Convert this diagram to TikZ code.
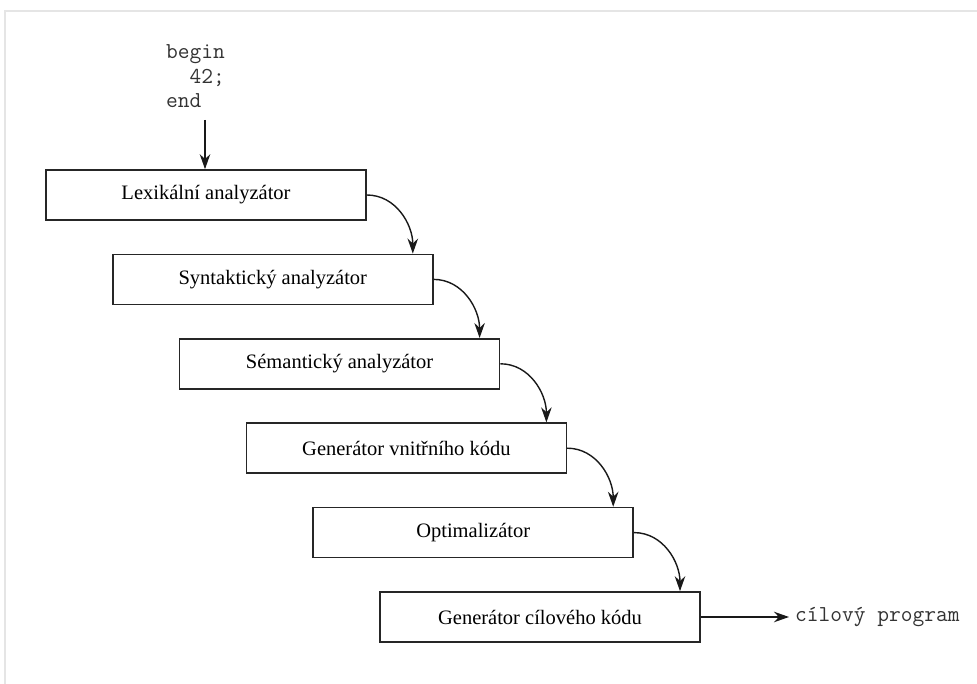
\documentclass[tikz,border=0pt]{standalone}
\usepackage{fontspec}
\setmainfont{Liberation Serif}
\usetikzlibrary{arrows.meta}
\begin{document}
\begin{tikzpicture}[x=1pt,y=1pt,
  stage/.style={draw=black!85,line width=1.6pt,minimum width=320pt,minimum height=50pt,
    inner sep=0pt,font=\fontsize{20.5}{24}\selectfont},
  code/.style={font=\fontsize{22.8}{24}\selectfont\ttfamily,text=black!80,inner sep=0pt,anchor=base west},
  flow/.style={-{Stealth[length=15pt,width=10.5pt]},line width=1.4pt,black!90},
  frame/.style={draw=black!10,line width=2pt}]
  \useasboundingbox (0,0) rectangle (977,684);
  % page edge
  \draw[frame] (5,0) -- (5,673) -- (977,673);

  % source program
  \node[code] (l1) at (166,625) {begin};
  \node[code] (l2) at (166,600) {\ \ 42;};
  \node[code] (l3) at (166,576) {end};
  \coordinate (src) at (205,564);

  % compiler phases
  \node[stage] (b1) at (206.0,489.0) {Lexikální analyzátor};
  \node[stage] (b2) at (272.8,404.6) {Syntaktický analyzátor};
  \node[stage] (b3) at (339.6,320.2) {Sémantický analyzátor};
  \node[stage] (b4) at (406.4,235.8) {Generátor vnitřního kódu};
  \node[stage] (b5) at (473.2,151.4) {Optimalizátor};
  \node[stage] (b6) at (540.0,67.0)  {Generátor cílového kódu};

  \node[code,anchor=west] (out) at (795,67) {cílový program};

  \draw[flow] (src) -- (b1.north -| src);
  \foreach \a/\b in {b1/b2,b2/b3,b3/b4,b4/b5,b5/b6}{
    \draw[flow] (\a.east) to[out=0,in=90] ([xshift=46pt]\a.east |- \b.north);
  }
  \draw[flow] (b6.east) -- ([xshift=-6pt]out.west);
\end{tikzpicture}
\end{document}
